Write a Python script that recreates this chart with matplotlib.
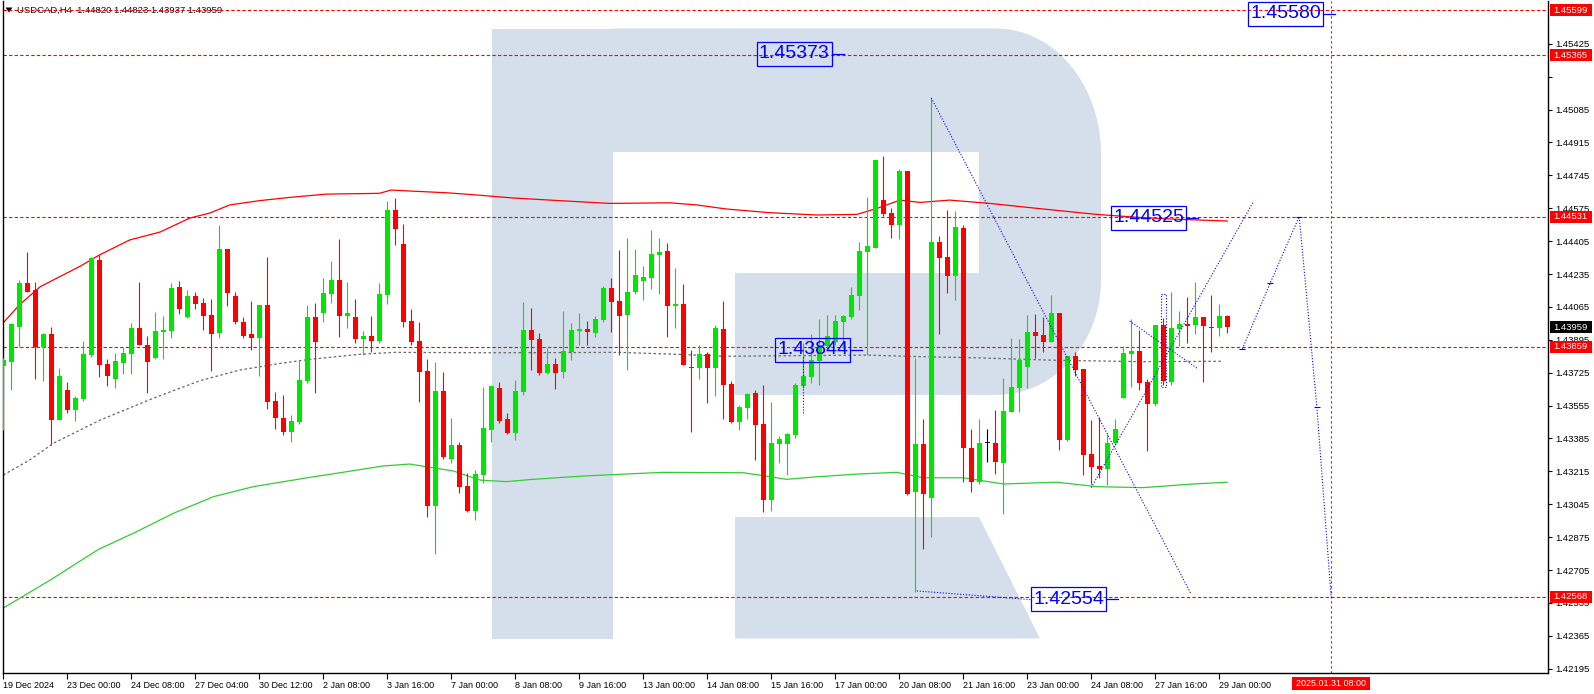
import numpy as np
import matplotlib
matplotlib.use("Agg")
import matplotlib.pyplot as plt
import matplotlib.transforms as mtransforms
from matplotlib.patches import Polygon, Rectangle
from matplotlib import font_manager as fm

# ------------------------------------------------------------------ data
opens = [
    1.43760, 1.43782, 1.43963, 1.44187, 1.44152, 1.43856, 1.43925, 1.43480, 1.43635, 1.43532,
    1.43587, 1.43816, 1.44307, 1.43770, 1.43692, 1.43777, 1.43823, 1.43956, 1.43868, 1.43802,
    1.43937, 1.43942, 1.44168, 1.44013, 1.44121, 1.44085, 1.44023, 1.43932, 1.44364, 1.44121,
    1.43987, 1.43925, 1.43906, 1.44075, 1.43579, 1.43491, 1.43420, 1.43472, 1.43684, 1.44013,
    1.44035, 1.44133, 1.44204, 1.44019, 1.44013, 1.43901, 1.43915, 1.43890, 1.44126, 1.44566,
    1.44390, 1.43992, 1.43889, 1.43734, 1.43038, 1.43630, 1.43280, 1.43351, 1.43139, 1.43010,
    1.43196, 1.43429, 1.43646, 1.43486, 1.43415, 1.43627, 1.43946, 1.43899, 1.43725, 1.43770,
    1.43730, 1.43832, 1.43942, 1.43951, 1.43932, 1.43999, 1.44163, 1.44095, 1.44023, 1.44140,
    1.44199, 1.44214, 1.44333, 1.44354, 1.44070, 1.44080, 1.43754, 1.43749, 1.43822, 1.43749,
    1.43951, 1.43666, 1.43470, 1.43542, 1.43620, 1.43460, 1.43067, 1.43356, 1.43356, 1.43403,
    1.43656, 1.43703, 1.43785, 1.43863, 1.43884, 1.43987, 1.44013, 1.44121, 1.44350, 1.44368,
    1.44617, 1.44550, 1.44488, 1.44767, 1.43108, 1.43356, 1.43077, 1.44400, 1.44323, 1.44225,
    1.44473, 1.43336, 1.43160, 1.43362, 1.43362, 1.43258, 1.43522, 1.43646, 1.43754, 1.43935,
    1.43920, 1.43884, 1.44033, 1.43377, 1.43811, 1.43744, 1.43305, 1.43243, 1.43227, 1.43362,
    1.43594, 1.43822, 1.43837, 1.43677, 1.43563, 1.43971, 1.43677, 1.43951, 1.43977, 1.43971,
    1.44013, 1.43961, 1.43956, 1.44018,
]
highs = [
    1.43801, 1.43983, 1.44204, 1.44349, 1.44194, 1.43929, 1.43963, 1.43749, 1.43677, 1.43605,
    1.43890, 1.44324, 1.44332, 1.43796, 1.43827, 1.43856, 1.43980, 1.44194, 1.43915, 1.44039,
    1.44018, 1.44187, 1.44199, 1.44152, 1.44144, 1.44109, 1.44107, 1.44488, 1.44364, 1.44142,
    1.44013, 1.44095, 1.44075, 1.44323, 1.43625, 1.43610, 1.43506, 1.43791, 1.44075, 1.44085,
    1.44214, 1.44302, 1.44416, 1.44194, 1.44106, 1.43940, 1.44018, 1.44188, 1.44612, 1.44628,
    1.44493, 1.44054, 1.43987, 1.43796, 1.43780, 1.43729, 1.43491, 1.43365, 1.43207, 1.43222,
    1.43653, 1.43661, 1.43677, 1.43517, 1.43687, 1.44090, 1.44059, 1.43930, 1.43853, 1.43801,
    1.44044, 1.43982, 1.44033, 1.43992, 1.44018, 1.44173, 1.44214, 1.44359, 1.44420, 1.44364,
    1.44276, 1.44462, 1.44421, 1.44395, 1.44266, 1.44183, 1.43842, 1.43868, 1.43832, 1.43971,
    1.44095, 1.43682, 1.43558, 1.43620, 1.43635, 1.43661, 1.43573, 1.43398, 1.43413, 1.43672,
    1.43878, 1.43925, 1.44002, 1.44023, 1.44023, 1.44023, 1.44168, 1.44400, 1.44633, 1.44824,
    1.44845, 1.44576, 1.44778, 1.44767, 1.43801, 1.43486, 1.45145, 1.44431, 1.44566, 1.44561,
    1.44488, 1.43434, 1.43486, 1.43434, 1.43532, 1.43698, 1.43904, 1.43899, 1.44023, 1.44028,
    1.44013, 1.44126, 1.44033, 1.43811, 1.43832, 1.43744, 1.43480, 1.43496, 1.43408, 1.43486,
    1.43863, 1.44002, 1.43946, 1.43692, 1.43971, 1.44008, 1.44142, 1.44044, 1.44116, 1.44194,
    1.44013, 1.44126, 1.44080, 1.44023,
]
lows = [
    1.43429, 1.43635, 1.43856, 1.44144, 1.43692, 1.43682, 1.43351, 1.43480, 1.43518, 1.43477,
    1.43580, 1.43808, 1.43704, 1.43658, 1.43647, 1.43720, 1.43720, 1.43867, 1.43622, 1.43796,
    1.43797, 1.43906, 1.44030, 1.44009, 1.44056, 1.43947, 1.43734, 1.43906, 1.44070, 1.43977,
    1.43904, 1.43844, 1.43708, 1.43537, 1.43434, 1.43404, 1.43368, 1.43458, 1.43670, 1.43622,
    1.43989, 1.44085, 1.43911, 1.43957, 1.43880, 1.43818, 1.43833, 1.43880, 1.44082, 1.44386,
    1.43963, 1.43870, 1.43575, 1.42981, 1.42788, 1.43277, 1.43260, 1.43105, 1.43005, 1.42964,
    1.43156, 1.43368, 1.43467, 1.43408, 1.43377, 1.43611, 1.43739, 1.43715, 1.43720, 1.43642,
    1.43699, 1.43791, 1.43870, 1.43870, 1.43911, 1.43989, 1.43937, 1.43818, 1.43739, 1.44132,
    1.44101, 1.44157, 1.44132, 1.43909, 1.43956, 1.43765, 1.43420, 1.43692, 1.43568, 1.43605,
    1.43486, 1.43465, 1.43429, 1.43486, 1.43274, 1.43007, 1.43010, 1.43258, 1.43196, 1.43387,
    1.43646, 1.43672, 1.43661, 1.43842, 1.43868, 1.43853, 1.44002, 1.44049, 1.43816, 1.44368,
    1.44535, 1.44421, 1.44416, 1.43093, 1.42592, 1.42814, 1.42876, 1.43925, 1.44137, 1.44101,
    1.43160, 1.43108, 1.43150, 1.43263, 1.43201, 1.42995, 1.43522, 1.43522, 1.43646, 1.43801,
    1.43832, 1.43884, 1.43325, 1.43372, 1.43708, 1.43196, 1.43150, 1.43181, 1.43145, 1.43351,
    1.43594, 1.43651, 1.43635, 1.43320, 1.43553, 1.43661, 1.43661, 1.43863, 1.43878, 1.43925,
    1.43677, 1.43832, 1.43915, 1.43930,
]
closes = [
    1.43791, 1.43975, 1.44187, 1.44144, 1.43856, 1.43925, 1.43480, 1.43708, 1.43532, 1.43594,
    1.43822, 1.44316, 1.43766, 1.43708, 1.43785, 1.43827, 1.43956, 1.43867, 1.43782, 1.43939,
    1.43946, 1.44163, 1.44056, 1.44121, 1.44082, 1.44019, 1.43926, 1.44364, 1.44138, 1.43987,
    1.43915, 1.43906, 1.44075, 1.43575, 1.43492, 1.43420, 1.43475, 1.43687, 1.44013, 1.43885,
    1.44137, 1.44204, 1.44019, 1.44033, 1.43901, 1.43915, 1.43890, 1.44132, 1.44566, 1.44469,
    1.43989, 1.43885, 1.43730, 1.43038, 1.43630, 1.43291, 1.43351, 1.43136, 1.43010, 1.43201,
    1.43439, 1.43656, 1.43477, 1.43415, 1.43630, 1.43946, 1.43895, 1.43725, 1.43770, 1.43725,
    1.43836, 1.43946, 1.43951, 1.43937, 1.44002, 1.44163, 1.44092, 1.44019, 1.44140, 1.44230,
    1.44220, 1.44338, 1.44349, 1.44070, 1.44080, 1.43765, 1.43749, 1.43822, 1.43749, 1.43956,
    1.43661, 1.43470, 1.43548, 1.43615, 1.43455, 1.43067, 1.43362, 1.43382, 1.43408, 1.43661,
    1.43708, 1.43791, 1.43868, 1.43915, 1.43992, 1.44018, 1.44126, 1.44354, 1.44380, 1.44824,
    1.44545, 1.44488, 1.44767, 1.43098, 1.43356, 1.43098, 1.44400, 1.44318, 1.44225, 1.44478,
    1.43336, 1.43160, 1.43362, 1.43362, 1.43263, 1.43527, 1.43651, 1.43791, 1.43935, 1.43915,
    1.43884, 1.44033, 1.43377, 1.43811, 1.43739, 1.43300, 1.43238, 1.43227, 1.43362, 1.43434,
    1.43827, 1.43837, 1.43672, 1.43563, 1.43971, 1.43682, 1.43956, 1.43977, 1.43966, 1.44013,
    1.43966, 1.43956, 1.44018, 1.43959,
]

# moving averages (knots: bar index, price)
red_ma_bars = [0, 2, 4.6, 7, 9.6, 12, 15.8, 19.6, 23.3, 25.8, 28.3, 32, 35.8, 40.4, 47, 48.5,
               50.8, 55.4, 58.7, 63.7, 69.6, 75.8, 83.3, 86.7, 90.4, 95.8, 101.7, 106.7, 109.2,
               112.1, 114.6, 118.3, 123.3, 130, 136.7, 142.5, 146.7, 153]
red_ma_vals = [1.43983, 1.44075, 1.44169, 1.44220, 1.44275, 1.44333, 1.44411, 1.44452, 1.44524,
               1.44550, 1.44592, 1.44614, 1.44631, 1.44648, 1.44652, 1.44669, 1.44664, 1.44655,
               1.44645, 1.44628, 1.44614, 1.44600, 1.44603, 1.44592, 1.44571, 1.44552, 1.44540,
               1.44543, 1.44574, 1.44617, 1.44605, 1.44617, 1.44600, 1.44571, 1.44543, 1.44526,
               1.44518, 1.44509]
gray_ma_bars = [0, 3.3, 6.25, 12.1, 18.75, 24.6, 29.6, 34.6, 38.3, 44.6, 48.7, 62.1, 77.1, 84.2,
                90, 107.9, 114.6, 121.7, 131.7, 142.5, 152.5]
gray_ma_vals = [1.43196, 1.43274, 1.43360, 1.43480, 1.43593, 1.43684, 1.43739, 1.43773, 1.43794,
                1.43820, 1.43830, 1.43828, 1.43830, 1.43820, 1.43810, 1.43816, 1.43808, 1.43802,
                1.43789, 1.43782, 1.43784]
green_ma_bars = [0, 5.9, 11.9, 16.25, 21.25, 26.25, 31.25, 38.3, 42.1, 47.5, 50.8, 52.9, 56.25,
                 59.6, 62.9, 66.25, 72.5, 77.1, 82.5, 92.5, 95, 97.9, 101.7, 106.7, 111.7, 115,
                 120, 125, 131.7, 136.7, 142.5, 148.75, 153]
green_ma_vals = [1.42509, 1.42654, 1.42812, 1.42895, 1.42998, 1.43084, 1.43136, 1.43184, 1.43208,
                 1.43243, 1.43253, 1.43239, 1.43217, 1.43170, 1.43162, 1.43174, 1.43191, 1.43200,
                 1.43210, 1.43208, 1.43193, 1.43174, 1.43187, 1.43201, 1.43210, 1.43182, 1.43182,
                 1.43150, 1.43159, 1.43136, 1.43131, 1.43150, 1.43159]

# horizontal levels and right-axis marks
level_prices = [1.45599, 1.45365, 1.44531, 1.43859, 1.42568]
current_price = 1.43959
ytick_values = [1.45425, 1.45255, 1.45085, 1.44915, 1.44745, 1.44575, 1.44405, 1.44235, 1.44065,
                1.43895, 1.43725, 1.43555, 1.43385, 1.43215, 1.43045, 1.42875, 1.42705, 1.42535,
                1.42365, 1.42195]
hidden_ytick = 1.45255

# date axis
date_bars = [0, 8, 16, 24, 32, 40, 48, 56, 64, 72, 80, 88, 96, 104, 112, 120, 128, 136, 144, 152]
date_labels = ["19 Dec 2024", "23 Dec 00:00", "24 Dec 08:00", "27 Dec 04:00", "30 Dec 12:00",
               "2 Jan 08:00", "3 Jan 16:00", "7 Jan 00:00", "8 Jan 08:00", "9 Jan 16:00",
               "13 Jan 00:00", "14 Jan 08:00", "15 Jan 16:00", "17 Jan 00:00", "20 Jan 08:00",
               "21 Jan 16:00", "23 Jan 00:00", "24 Jan 08:00", "27 Jan 16:00", "29 Jan 00:00"]
vline_bar = 166
vline_label = "2025.01.31 08:00"

# blue annotation labels (value, left bar)
blue_label_values = [1.45580, 1.45373, 1.44525, 1.43844, 1.42554]
blue_label_bars = [155.6, 94.2, 138.5, 96.5, 128.5]

# blue dotted forecast / pattern lines (bars, prices)
blue_lines = [
    ([116, 148.5], [1.45145, 1.42580]),
    ([114.2, 128.5], [1.42597, 1.42552]),
    ([136.0, 156.3], [1.43131, 1.44611]),
    ([154.9, 158.4, 162.0, 164.2, 166.0], [1.43849, 1.44191, 1.44532, 1.43550, 1.42562]),
    ([140.8, 149.2], [1.43992, 1.43749]),
    ([100, 100], [1.43808, 1.43508]),
    ([144.7, 145.3, 145.3, 144.7, 144.7], [1.44132, 1.44132, 1.43651, 1.43651, 1.44132]),
]

title_text = "USDCAD,H4  1.44820 1.44823 1.43937 1.43959"

# ------------------------------------------------------------------ figure
W, H = 1594, 694
DPI = 100
fig = plt.figure(figsize=(W / DPI, H / DPI), dpi=DPI)
fig.patch.set_facecolor("white")

installed = {f.name for f in fm.fontManager.ttflist}
NARROW = "Liberation Sans Narrow" in installed
small_family = ["Liberation Sans Narrow", "DejaVu Sans"] if NARROW else ["Liberation Sans", "DejaVu Sans"]
fs_date = 7.6 if NARROW else 6.5
fs_price = 8.0 if NARROW else 6.8

AX_L, AX_R, AX_T, AX_B = 2.5, 1548.0, 1.0, 673.0
bg = fig.add_axes([0, 0, 1, 1], zorder=0)
bg.set_xlim(0, W)
bg.set_ylim(H, 0)
bg.axis("off")

# watermark "R" (decoration, pixel coordinates)
WM = "#d5dfeb"
bg.add_patch(Rectangle((492, 28.5), 121, 610, facecolor=WM, edgecolor="none"))
t1 = np.linspace(np.pi / 2, 0, 24)
t2 = np.linspace(0, -np.pi / 2, 24)
arc_top = [(996 + 105 * np.cos(t), 153.5 - 125 * np.sin(t)) for t in t1]
arc_bot = [(996 + 105 * np.cos(t), 280 - 115 * np.sin(t)) for t in t2]
bowl = [(613, 28.5)] + arc_top + arc_bot + [(735, 395), (735, 273), (979, 273), (979, 152), (613, 152)]
bg.add_patch(Polygon(bowl, closed=True, facecolor=WM, edgecolor="none"))
leg = [(735, 517), (979, 517), (1040, 638.5), (735, 638.5)]
bg.add_patch(Polygon(leg, closed=True, facecolor=WM, edgecolor="none"))

# title
bg.add_patch(Polygon([(5.5, 7.5), (12.5, 7.5), (9, 12.5)], closed=True, facecolor="black", edgecolor="none"))
bg.text(17, 10.5, title_text, fontsize=fs_price, family=small_family, va="center", ha="left", color="#111111")

ax = fig.add_axes([AX_L / W, 1 - AX_B / H, (AX_R - AX_L) / W, (AX_B - AX_T) / H], zorder=1)
ax.set_facecolor("none")
ax.set_xlim(-0.1, 193.1)
ax.set_ylim(1.42173, 1.45646)

PX = (1.45646 - 1.42173) / (AX_B - AX_T)      # price per pixel
BX = 193.2 / (AX_R - AX_L)                     # bars per pixel

def fx(px):
    return (px - AX_L) / (AX_R - AX_L)

def fy(py):
    return (AX_B - py) / (AX_B - AX_T)

# levels
for lv in level_prices:
    ax.axhline(lv, color="#ff0000", lw=0.8, ls=(0, (3, 2)), zorder=1.2)
ax.axvline(vline_bar, color="#ff0000", lw=0.8, ls=(0, (2, 2.5)), zorder=1.2)

# moving averages
ax.plot(red_ma_bars, red_ma_vals, color="#ff0000", lw=0.9, zorder=2)
ax.plot(gray_ma_bars, gray_ma_vals, color="#666666", lw=0.9, ls=(0, (2, 2)), zorder=2)
ax.plot(green_ma_bars, green_ma_vals, color="#32cd32", lw=0.9, zorder=2)

# candles
GREEN = "#00e600"
RED = "#ff0000"
for i, (o, h, l, c) in enumerate(zip(opens, highs, lows, closes)):
    col = GREEN if c > o else (RED if c < o else "black")
    ax.vlines(i, l, h, color=col, lw=0.8, zorder=3)
    body = max(abs(c - o), PX * 1.3)
    ax.add_patch(Rectangle((i - 0.33, min(o, c)), 0.66, body, facecolor=col,
                           edgecolor="none", zorder=3))

# blue dotted lines
for xs, ys in blue_lines:
    ax.plot(xs, ys, color="#0000ff", lw=0.8, ls=(0, (1, 1.6)), zorder=4)
fx_path = blue_lines[3]
ax.plot(fx_path[0][:4], fx_path[1][:4], ls="none", marker="_", ms=4, mew=0.8, color="#0000ff", zorder=4)

# blue value labels
BOX_W = 75 * BX
BOX_H = 24 * PX
for val, xb in zip(blue_label_values, blue_label_bars):
    ax.add_patch(Rectangle((xb, val - BOX_H / 2), BOX_W, BOX_H, facecolor="none",
                           edgecolor="#0000ff", lw=0.9, zorder=5))
    ax.plot([xb + BOX_W, xb + BOX_W + 12 * BX], [val, val], color="#0000ff", lw=0.9, zorder=5)
    ax.text(xb + BOX_W / 2, val, f"{val:.5f}", color="#0000ff", fontsize=14,
            family=["Liberation Sans", "DejaVu Sans"], ha="center", va="center", zorder=5)

# spines
ax.spines["top"].set_visible(False)
for s in ["left", "right", "bottom"]:
    ax.spines[s].set_color("black")
    ax.spines[s].set_linewidth(1.0)

# right axis ticks
ax.yaxis.tick_right()
ax.set_yticks(ytick_values)
ax.set_yticklabels(["" if v == hidden_ytick else f"{v:.5f}" for v in ytick_values])
ax.tick_params(axis="y", direction="out", length=3, width=0.8, pad=2, labelsize=fs_price, colors="black")
for t in ax.get_yticklabels():
    t.set_fontfamily(small_family)

# bottom date ticks
ax.set_xticks(date_bars)
ax.set_xticklabels(date_labels)
ax.tick_params(axis="x", direction="out", length=4, width=0.8, pad=2, labelsize=fs_date, colors="black")
for t in ax.get_xticklabels():
    t.set_fontfamily(small_family)
    t.set_ha("left")

# right-axis price boxes
blend_y = mtransforms.blended_transform_factory(ax.transAxes, ax.transData)
box_h = 12 * PX
for p, fc in [(lv, "#ff0000") for lv in level_prices] + [(current_price, "black")]:
    ax.add_patch(Rectangle((fx(1549.5), p - box_h / 2), fx(1591.5) - fx(1549.5), box_h,
                           transform=blend_y, facecolor=fc, edgecolor="none", clip_on=False, zorder=6))
    ax.text(fx(1553), p, f"{p:.5f}", transform=blend_y, color="white", fontsize=fs_price,
            family=small_family, ha="left", va="center", clip_on=False, zorder=7)

# bottom date box for the vertical line
blend_x = mtransforms.blended_transform_factory(ax.transData, ax.transAxes)
ax.add_patch(Rectangle((vline_bar - 39 * BX, fy(690)), 78 * BX, fy(676.5) - fy(690),
                       transform=blend_x, facecolor="#ff0000", edgecolor="none", clip_on=False, zorder=6))
ax.text(vline_bar, (fy(690) + fy(676.5)) / 2, vline_label, transform=blend_x, color="white",
        fontsize=fs_date, family=small_family, ha="center", va="center", clip_on=False, zorder=7)

fig.savefig("out.png", dpi=DPI, facecolor="white")
